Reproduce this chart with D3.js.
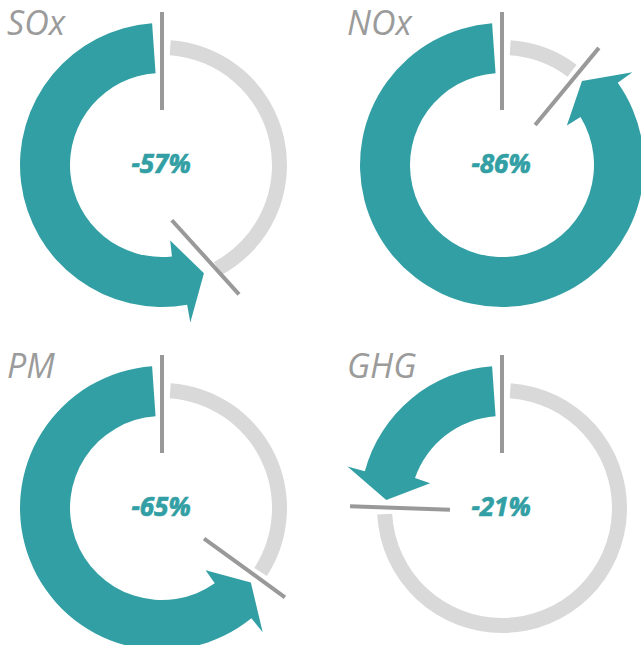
<!DOCTYPE html>
<html>
<head>
<meta charset="utf-8">
<script src="https://cdn.jsdelivr.net/npm/d3@7"></script>
<style>
  html, body { margin: 0; padding: 0; background: #fff; }
  svg { display: block; }
  .title { font-family: "Open Sans", sans-serif; font-style: italic; font-weight: 400; fill: #9b9b9b; font-size: 34px; }
  .pct { font-family: "Open Sans", sans-serif; font-style: italic; font-weight: 700; fill: #329fa4; stroke: #329fa4; stroke-width: 0.7px; font-size: 26px; }
</style>
</head>
<body>
<svg id="chart" width="641" height="645"></svg>
<script>
// pollutants and their reductions
const pollutants = ["SOx", "NOx", "PM", "GHG"];
const reductions = [-57, -86, -65, -21];
// share of the ring the arrow actually covers in the drawing (%)
const drawnShare = [57, 89, 65, 25];

// layout
const centersX = [162, 502];
const centersY = [165, 508];
const markerTilt = [-17, 0, 0, 2]; // degrees

const TEAL = "#329fa4";
const RING = "#d9d9d9";
const MARK = "#999999";

const rIn = 92, rOut = 142;
const ringIn = 110, ringOut = 125;
const rad = (deg) => deg * Math.PI / 180;

// share -> angle (clockwise from 12 o'clock), arrow runs anticlockwise
const angle = d3.scaleLinear().domain([0, 100]).range([2 * Math.PI, 0]);

const svg = d3.select("#chart");

function pt(r, a) {
  return [r * Math.sin(a), -r * Math.cos(a)];
}

function arrowPath(theta) {
  const start = 2 * Math.PI - rad(4);
  const outerBase = theta + rad(15);
  const innerBase = theta + rad(19);
  const tip = theta + rad(4);
  const p = d3.path();
  const s = pt(rOut, start);
  p.moveTo(s[0], s[1]);
  p.arc(0, 0, rOut, start - Math.PI / 2, outerBase - Math.PI / 2, true);
  const ob = pt(rOut + 18, outerBase);
  const tp = pt((rIn + rOut) / 2 - 1, tip);
  const ib = pt(rIn - 16, innerBase);
  const ie = pt(rIn, innerBase);
  p.lineTo(ob[0], ob[1]);
  p.lineTo(tp[0], tp[1]);
  p.lineTo(ib[0], ib[1]);
  p.lineTo(ie[0], ie[1]);
  p.arc(0, 0, rIn, innerBase - Math.PI / 2, start - Math.PI / 2, false);
  p.closePath();
  return p.toString();
}

const ringArc = d3.arc().innerRadius(ringIn).outerRadius(ringOut);

const data = pollutants.map((name, i) => ({
  name,
  value: reductions[i],
  share: drawnShare[i],
  cx: centersX[i % 2],
  cy: centersY[Math.floor(i / 2)],
  tilt: markerTilt[i],
}));

const g = svg.selectAll("g.donut")
  .data(data)
  .join("g")
  .attr("class", "donut")
  .attr("transform", (d) => `translate(${d.cx},${d.cy})`);

// remaining grey ring
g.append("path")
  .attr("fill", RING)
  .attr("d", (d) => ringArc({ startAngle: rad(4), endAngle: angle(d.share) - rad(3) }));

// reduction arrow
g.append("path")
  .attr("fill", TEAL)
  .attr("d", (d) => arrowPath(angle(d.share)));

// start marker
g.append("line")
  .attr("stroke", MARK)
  .attr("stroke-width", 4)
  .attr("x1", 0).attr("y1", -153)
  .attr("x2", 0).attr("y2", -55);

// end marker
g.append("line")
  .attr("stroke", MARK)
  .attr("stroke-width", 4)
  .each(function (d) {
    const th = angle(d.share);
    const a = pt(52, th), b = pt(152, th);
    const mx = (a[0] + b[0]) / 2, my = (a[1] + b[1]) / 2;
    const t = rad(d.tilt);
    const rot = (q) => [
      mx + (q[0] - mx) * Math.cos(t) - (q[1] - my) * Math.sin(t),
      my + (q[0] - mx) * Math.sin(t) + (q[1] - my) * Math.cos(t),
    ];
    const ra = rot(a), rb = rot(b);
    d3.select(this)
      .attr("x1", ra[0]).attr("y1", ra[1])
      .attr("x2", rb[0]).attr("y2", rb[1]);
  });

// centre label
g.append("text")
  .attr("class", "pct")
  .attr("text-anchor", "middle")
  .attr("x", -1)
  .attr("y", 8)
  .text((d) => `${d.value}%`);

// title
g.append("text")
  .attr("class", "title")
  .attr("x", -155)
  .attr("y", -130)
  .text((d) => d.name);
</script>
</body>
</html>
